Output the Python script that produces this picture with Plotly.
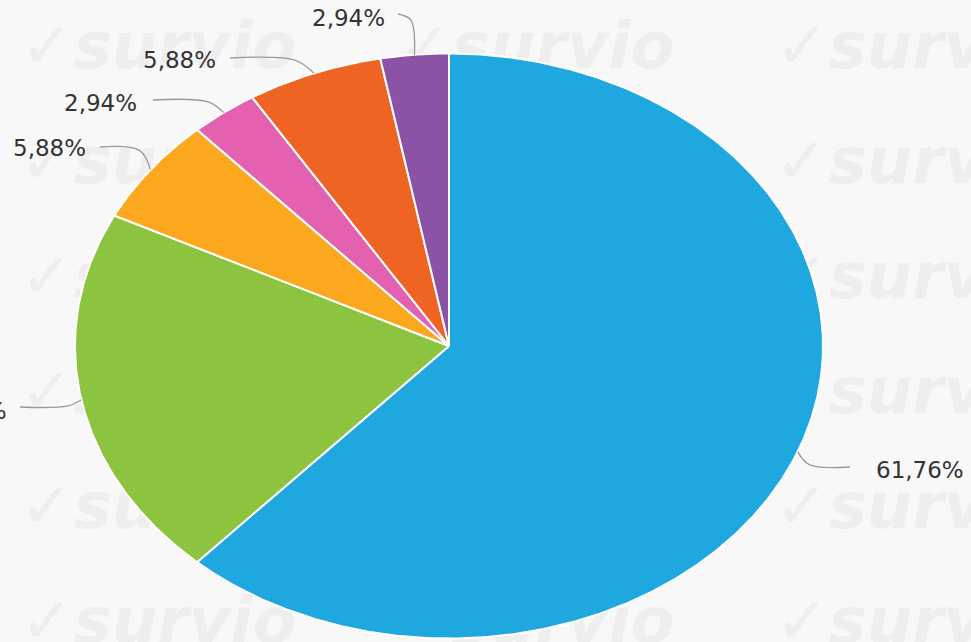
import numpy as np
import plotly.graph_objects as go

# ---- data ----
categories = ["Odpověď 1", "Odpověď 2", "Odpověď 3", "Odpověď 4", "Odpověď 5", "Odpověď 6"]
percent = [61.76, 20.59, 5.88, 2.94, 5.88, 2.94]
label_text = ["61,76%", "20,59%", "5,88%", "2,94%", "5,88%", "2,94%"]

# ---- style ----
colors = ["#1fa8e0", "#8cc440", "#fba81e", "#e461b0", "#f06423", "#8c52a6"]
W, H = 971, 642
CX, CY, RX, RY = 449, 346, 374, 292.5
# connector end points on the label side (pixel coords) and text side
label_end = [(850, 467), (20, 407), (100, 147), (153, 100), (230, 58), (398, 14)]
label_side = ["left", "right", "right", "right", "right", "right"]
text_gap = [24, 11, 12, 14, 12, 11]
text_y = [470, 411, 148, 103, 60, 18]

fig = go.Figure()

# watermark (behind everything)
wm_x, wm_y = [], []
for r in [52, 167, 282, 397, 512, 627]:
    for c in [20, 398, 775]:
        wm_x.append(c)
        wm_y.append(r)
fig.add_trace(go.Scatter(
    x=wm_x, y=wm_y, mode="text", text=["✓survio"] * len(wm_x),
    textposition="middle right",
    textfont=dict(family="DejaVu Sans", size=64, color="#eeeeee", weight="bold", style="italic"),
    hoverinfo="skip", showlegend=False))

total = sum(percent)
cum = np.concatenate([[0], np.cumsum(percent)]) / total
for i, cat in enumerate(categories):
    a0, a1 = cum[i] * 2 * np.pi, cum[i + 1] * 2 * np.pi
    t = np.linspace(a0, a1, max(int((a1 - a0) * 120), 8))
    xs = np.concatenate([[CX], CX + RX * np.sin(t), [CX]])
    ys = np.concatenate([[CY], CY - RY * np.cos(t), [CY]])
    fig.add_trace(go.Scatter(
        x=xs, y=ys, mode="lines", fill="toself", fillcolor=colors[i],
        line=dict(color="#ffffff", width=2), name=cat,
        hoverinfo="text", text=f"{cat}: {label_text[i]}", showlegend=False))

# connectors and labels
for i in range(len(categories)):
    mid = (cum[i] + cum[i + 1]) / 2 * 2 * np.pi
    ex, ey = CX + RX * np.sin(mid), CY - RY * np.cos(mid)
    lx, ly = label_end[i]
    bx = ex + 0.22 * (lx - ex)
    by = ly + 0.15 * (ey - ly)
    fig.add_trace(go.Scatter(
        x=[lx, bx, ex], y=[ly, by, ey], mode="lines",
        line=dict(color="#999999", width=1.3, shape="spline", smoothing=1.0),
        hoverinfo="skip", showlegend=False))
    if label_side[i] == "left":
        fig.add_annotation(x=lx + text_gap[i], y=text_y[i], text=label_text[i], showarrow=False,
                           xanchor="left", yanchor="middle",
                           font=dict(family="DejaVu Sans", size=23, color="#333333"))
    else:
        fig.add_annotation(x=lx - text_gap[i], y=text_y[i], text=label_text[i], showarrow=False,
                           xanchor="right", yanchor="middle",
                           font=dict(family="DejaVu Sans", size=23, color="#333333"))

fig.update_layout(
    width=W, height=H,
    margin=dict(l=0, r=0, t=0, b=0),
    paper_bgcolor="#f8f8f8", plot_bgcolor="#f8f8f8",
    xaxis=dict(range=[0, W], visible=False, fixedrange=True),
    yaxis=dict(range=[H, 0], visible=False, fixedrange=True),
    showlegend=False,
)
fig.write_html("out.html", config={"displayModeBar": False},
               post_script="document.body.style.margin='0';document.body.style.overflow='hidden';")
